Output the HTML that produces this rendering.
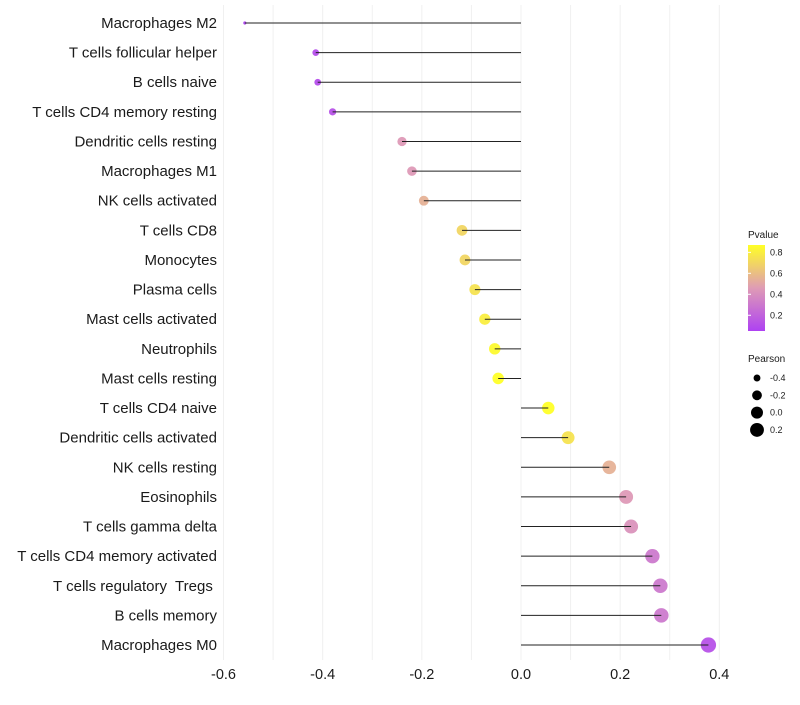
<!DOCTYPE html>
<html><head><meta charset="utf-8"><style>
body{margin:0;background:#fff;font-family:"Liberation Sans",sans-serif}
</style></head><body>
<svg id="chart" width="800" height="700" xmlns="http://www.w3.org/2000/svg">
<defs><linearGradient id="pg" x1="0" y1="1" x2="0" y2="0">
<stop offset="0" stop-color="#A020F0"/><stop offset="0.5" stop-color="#D98AA8"/><stop offset="1" stop-color="#FFFF00"/></linearGradient></defs>
<g id="grid"></g><g id="points"></g><g id="stems"></g><g id="labels"></g><g id="xaxis"></g>
<g>
<text x="748" y="238" font-size="10" fill="#1a1a1a">Pvalue</text>
<rect x="748" y="245" width="17" height="86" fill="url(#pg)" opacity="0.85"/>
<g id="cbticks"></g>
</g>
<g>
<text x="748" y="362" font-size="10" fill="#1a1a1a">Pearson</text>
<g id="sizeleg"></g>
</g>
</svg>
<script>
const categories=["Macrophages M2","T cells follicular helper","B cells naive","T cells CD4 memory resting","Dendritic cells resting","Macrophages M1","NK cells activated","T cells CD8","Monocytes","Plasma cells","Mast cells activated","Neutrophils","Mast cells resting","T cells CD4 naive","Dendritic cells activated","NK cells resting","Eosinophils","T cells gamma delta","T cells CD4 memory activated","T cells regulatory  Tregs ","B cells memory","Macrophages M0"];
const pearson=[-0.557,-0.414,-0.41,-0.38,-0.24,-0.22,-0.196,-0.119,-0.113,-0.093,-0.073,-0.053,-0.046,0.055,0.095,0.178,0.212,0.222,0.265,0.281,0.283,0.378];
const pvalue=[0.05,0.1,0.1,0.12,0.45,0.45,0.55,0.7,0.7,0.75,0.8,0.85,0.87,0.87,0.75,0.55,0.45,0.42,0.3,0.3,0.3,0.12];
const xTicks=[-0.6,-0.4,-0.2,0.0,0.2,0.4];
const xTickLabels=["-0.6","-0.4","-0.2","0.0","0.2","0.4"];
const cbTicks=[0.2,0.4,0.6,0.8];
const sizeLegend=[-0.4,-0.2,0.0,0.2];
const NS="http://www.w3.org/2000/svg";
function el(t,a,p){const e=document.createElementNS(NS,t);for(const k in a)e.setAttribute(k,a[k]);document.getElementById(p).appendChild(e);return e;}
const xs=v=>521+(v)*495.8;
const ys=i=>23+i*29.62;
const rs=v=>Math.sqrt(Math.max(1,2.5+(v+0.557)*60));
const pmin=0.05,pmax=0.87;
const cby=p=>331-(p-pmin)/(pmax-pmin)*86;
function col(p){let t=Math.max(0,Math.min(1,(p-pmin)/(pmax-pmin)));
 const a=[160,32,240],m=[217,138,168],b=[255,255,0];let c;
 if(t<0.5){const u=t/0.5;c=a.map((x,i)=>x+(m[i]-x)*u);}else{const u=(t-0.5)/0.5;c=m.map((x,i)=>x+(b[i]-x)*u);}
 return `rgb(${c.map(Math.round).join(',')})`;}
for(let v=-0.6;v<=0.45;v+=0.1){const g=el('line',{x1:xs(v),x2:xs(v),y1:5,y2:660,stroke:'#f0f0f0','stroke-width':1},'grid');

}
categories.forEach((c,i)=>{
 const y=ys(i);
 const t=el('text',{x:217,y:y+5,'text-anchor':'end','font-size':15,fill:'#1a1a1a'},'labels');t.textContent=c;
 t.setAttribute('xml:space','preserve');
 t.style.whiteSpace='pre';
 
 
 const d=el('circle',{cx:xs(pearson[i]),cy:y,r:rs(pearson[i]),fill:col(pvalue[i]),'fill-opacity':0.8},'points');
 
 
 const l=el('line',{x1:xs(0),x2:xs(pearson[i]),y1:y,y2:y,stroke:'#222','stroke-width':1},'stems');
 
 
});
xTicks.forEach((v,i)=>{const t=el('text',{x:xs(v),y:679,'text-anchor':'middle','font-size':14.5,fill:'#1a1a1a'},'xaxis');t.textContent=xTickLabels[i];
 
 });
cbTicks.forEach(p=>{const y=cby(p);
 const l=el('line',{x1:748,x2:751,y1:y,y2:y,stroke:'#fff'},'cbticks');
 
 
 const t=el('text',{x:770,y:y+3,'font-size':9,fill:'#1a1a1a'},'cbticks');t.textContent=p.toFixed(1);
 
 });
sizeLegend.forEach((v,i)=>{const y=378+i*17.3;
 const c=el('circle',{cx:757,cy:y,r:rs(v),fill:'#000'},'sizeleg');
 
 
 const t=el('text',{x:770,y:y+3,'font-size':9,fill:'#1a1a1a'},'sizeleg');t.textContent=v.toFixed(1);
 
 });
</script>
</body></html>
